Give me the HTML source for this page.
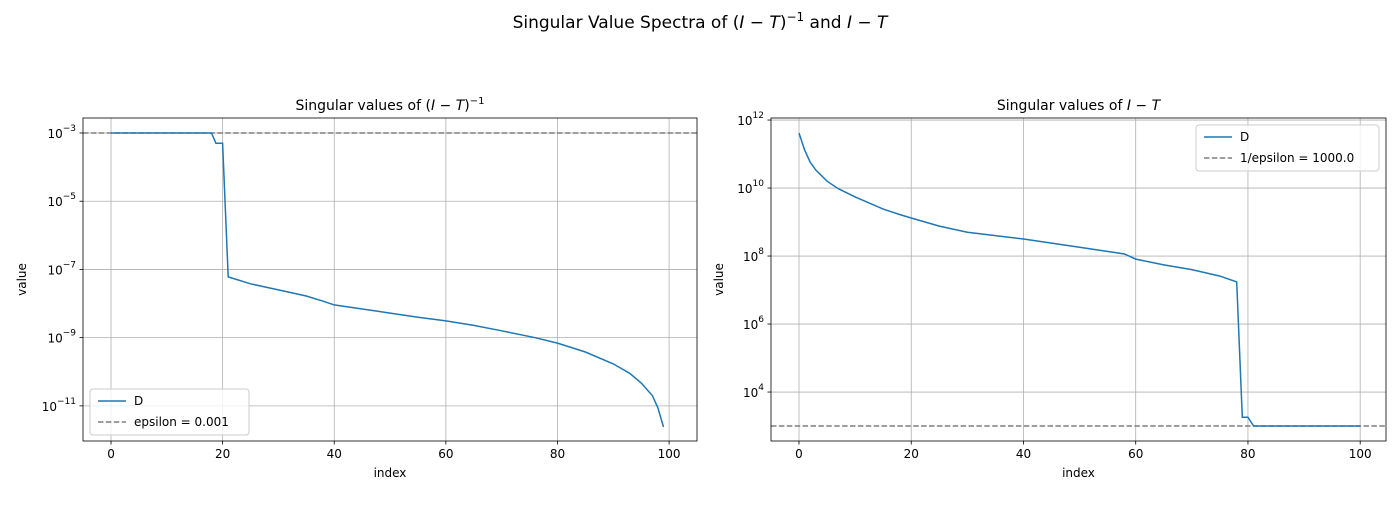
<!DOCTYPE html>
<html><head><meta charset="utf-8"><style>
body{margin:0;background:#fff;font-family:"Liberation Sans","DejaVu Sans",sans-serif}
svg text{font-family:"DejaVu Sans","Liberation Sans",sans-serif;fill:#000}
</style></head><body>
<svg id="c" width="1400" height="500" xmlns="http://www.w3.org/2000/svg">
<text x="700" y="28" font-size="17" text-anchor="middle">Singular Value Spectra of (<tspan font-style="italic">I</tspan> − <tspan font-style="italic">T</tspan>)<tspan dy="-7" font-size="12">−1</tspan><tspan dy="7"> and </tspan><tspan font-style="italic">I</tspan> − <tspan font-style="italic">T</tspan></text>
</svg>
<script>
// Left panel data: singular values of (I-T)^-1 (index, log10 value)
const leftIdx = [0,18,18.8,20,21,25,30,35,38,40,45,50,55,60,65,70,76,80,85,90,93,95,97,98,99];
const leftLog = [-3,-3,-3.3,-3.3,-7.22,-7.42,-7.6,-7.78,-7.93,-8.04,-8.16,-8.28,-8.4,-8.51,-8.64,-8.8,-9.0,-9.16,-9.42,-9.77,-10.05,-10.33,-10.7,-11.06,-11.62];
// Right panel data: singular values of I-T
const rightIdx = [0,1,2,3,5,7,10,15,18,20,25,30,40,50,58,60,65,70,75,78,79,80,81,100];
const rightLog = [11.62,11.12,10.76,10.53,10.2,9.98,9.74,9.38,9.22,9.12,8.88,8.7,8.5,8.26,8.06,7.91,7.74,7.6,7.41,7.24,3.26,3.26,3,3];
const xTicks = [0,20,40,60,80,100];
const leftYTicks = [-3,-5,-7,-9,-11];
const rightYTicks = [12,10,8,6,4];
const leftRef = -3, rightRef = 3;

const NS='http://www.w3.org/2000/svg', svg=document.getElementById('c');
function mk(tag,attrs,parent){const e=document.createElementNS(NS,tag);for(const k in attrs)e.setAttribute(k,attrs[k]);(parent||svg).appendChild(e);return e;}

function panel(p){
  const g=mk('g',{});
  
  
  const sx=v=>p.x0+(v-p.xmin)/(p.xmax-p.xmin)*(p.x1-p.x0);
  const sy=v=>p.y1-(v-p.ymin)/(p.ymax-p.ymin)*(p.y1-p.y0);
  xTicks.forEach(t=>{
    const X=sx(t);
    const l=mk('line',{x1:X,x2:X,y1:p.y0,y2:p.y1,stroke:'#b0b0b0','stroke-width':0.8},g);
    
    
    mk('line',{x1:X,x2:X,y1:p.y1,y2:p.y1+3.5,stroke:'#000','stroke-width':0.8},g);
    const tx=mk('text',{x:X,y:p.y1+17,'font-size':12,'text-anchor':'middle'},g);
    tx.textContent=t;
    
    
  });
  p.yTicks.forEach(t=>{
    const Y=sy(t);
    const l=mk('line',{x1:p.x0,x2:p.x1,y1:Y,y2:Y,stroke:'#b0b0b0','stroke-width':0.8},g);
    
    
    mk('line',{x1:p.x0-3.5,x2:p.x0,y1:Y,y2:Y,stroke:'#000','stroke-width':0.8},g);
    const tx=mk('text',{x:p.x0-7,y:Y+5,'font-size':12,'text-anchor':'end'},g);
    
    
    const a=document.createElementNS(NS,'tspan');a.textContent='10';tx.appendChild(a);
    const b=document.createElementNS(NS,'tspan');b.setAttribute('dy','-7');b.setAttribute('font-size','9');b.textContent=(t<0?'−'+(-t):t);tx.appendChild(b);
  });
  const r=mk('line',{x1:p.x0,x2:p.x1,y1:sy(p.ref),y2:sy(p.ref),stroke:'#7f7f7f','stroke-width':1.5,'stroke-dasharray':'5.5,2.4'},g);
  
  
  const cp=mk('clipPath',{id:'cp'+p.id},g);mk('rect',{x:p.x0,y:p.y0,width:p.x1-p.x0,height:p.y1-p.y0},cp);
  const d=p.idx.map((v,i)=>(i?'L':'M')+sx(v).toFixed(1)+','+sy(p.vals[i]).toFixed(1)).join('');
  const s=mk('path',{d:d,fill:'none',stroke:'#1f77b4','stroke-width':1.5,'clip-path':'url(#cp'+p.id+')'},g);
  
  
  const f=mk('rect',{x:p.x0,y:p.y0,width:p.x1-p.x0,height:p.y1-p.y0,fill:'none',stroke:'#000','stroke-width':0.8},g);
  
  
  const xl=mk('text',{x:(p.x0+p.x1)/2,y:p.y1+36,'font-size':12,'text-anchor':'middle'},g);xl.textContent='index';
  
  
  const yl=mk('text',{x:0,y:0,'font-size':12,'text-anchor':'middle',transform:`translate(${p.x0-p.yoff},${(p.y0+p.y1)/2}) rotate(-90)`},g);yl.textContent='value';
  
  
  const tt=mk('text',{x:(p.x0+p.x1)/2,y:p.y0-8,'font-size':14,'text-anchor':'middle'},g);
  
  
  tt.innerHTML=p.title;
  // legend
  const L=mk('g',{},g);
  
  
  mk('rect',{x:p.lx,y:p.ly,width:p.lw,height:46,rx:3,fill:'#fff','fill-opacity':0.8,stroke:'#ccc','stroke-width':1},L);
  mk('line',{x1:p.lx+8,x2:p.lx+36,y1:p.ly+12,y2:p.ly+12,stroke:'#1f77b4','stroke-width':1.5},L);
  mk('line',{x1:p.lx+8,x2:p.lx+36,y1:p.ly+33,y2:p.ly+33,stroke:'#7f7f7f','stroke-width':1.5,'stroke-dasharray':'5.5,2.4'},L);
  const t1=mk('text',{x:p.lx+44,y:p.ly+16,'font-size':12},L);t1.textContent='D';
  
  
  const t2=mk('text',{x:p.lx+44,y:p.ly+37,'font-size':12},L);t2.textContent=p.refLabel;
  
  
}
const sup='(<tspan font-style="italic">I</tspan> − <tspan font-style="italic">T</tspan>)<tspan dy="-6" font-size="10">−1</tspan>';
panel({id:'L',name:'left-panel',x0:83,x1:697,y0:118,y1:441,xmin:-5.02,xmax:105.0,ymin:-12.03,ymax:-2.56,
  yTicks:leftYTicks,idx:leftIdx,vals:leftLog,ref:leftRef,yoff:57,
  title:'Singular values of '+sup,lx:90,ly:389,lw:159,refLabel:'epsilon = 0.001'});
panel({id:'R',name:'right-panel',x0:771,x1:1386,y0:118,y1:441,xmin:-4.99,xmax:104.6,ymin:2.56,ymax:12.06,
  yTicks:rightYTicks,idx:rightIdx,vals:rightLog,ref:rightRef,yoff:48,
  title:'Singular values of <tspan font-style="italic">I</tspan> − <tspan font-style="italic">T</tspan>',lx:1196,ly:125,lw:183,refLabel:'1/epsilon = 1000.0'});
</script>
</body></html>
